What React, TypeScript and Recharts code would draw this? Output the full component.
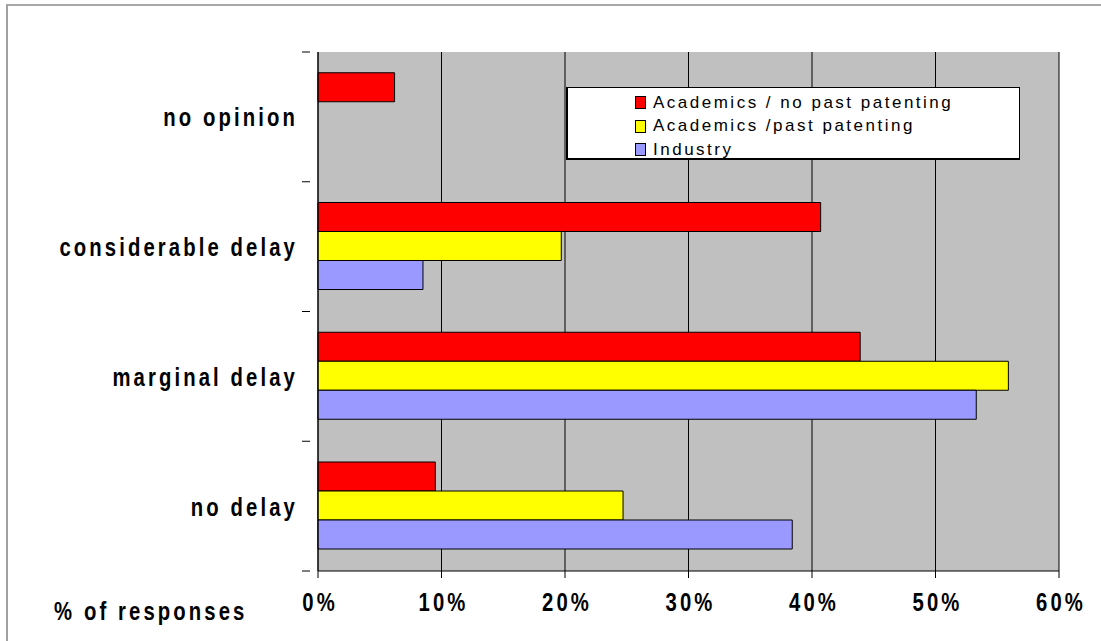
import { BarChart, Bar, XAxis, YAxis, CartesianGrid, Legend } from "recharts";

const CATEGORIES = ["no opinion", "considerable delay", "marginal delay", "no delay"];
const ACAD_NO_PAST = [6.2, 40.7, 43.9, 9.5];
const ACAD_PAST = [0, 19.7, 55.9, 24.7];
const INDUSTRY = [0, 8.5, 53.3, 38.4];
const X_TICKS = [0, 10, 20, 30, 40, 50, 60];

const SERIES = [
  { key: "acadNoPast", name: "Academics / no past patenting", color: "#FF0000" },
  { key: "acadPast", name: "Academics /past patenting", color: "#FFFF00" },
  { key: "industry", name: "Industry", color: "#9999FF" },
];

const data = CATEGORIES.map((cat, i) => ({
  cat,
  acadNoPast: ACAD_NO_PAST[i],
  acadPast: ACAD_PAST[i] || null,
  industry: INDUSTRY[i] || null,
}));

// narrow bold look of the old spreadsheet labels
const LABEL_FONT = "'Liberation Sans', Arial, sans-serif";
const SQUEEZE = 0.78;
const BAND = (571 - 52) / CATEGORIES.length;

function NarrowText({ x, y, anchor, children }: any) {
  return (
    <text
      transform={`translate(${x},${y}) scale(${SQUEEZE},1)`}
      textAnchor={anchor}
      fontFamily={LABEL_FONT}
      fontWeight="bold"
      fontSize={26}
      letterSpacing={4}
      fill="#000"
    >
      {children}
    </text>
  );
}

function CatTick({ x, y, payload, index }: any) {
  return (
    <g>
      <line x1={x - 8} x2={x} y1={y - BAND / 2} y2={y - BAND / 2} stroke="#000" />
      {index === CATEGORIES.length - 1 && (
        <line x1={x - 8} x2={x} y1={y + BAND / 2} y2={y + BAND / 2} stroke="#000" />
      )}
      <NarrowText x={x - 12} y={y + 9.5} anchor="end">
        {payload.value}
      </NarrowText>
    </g>
  );
}

function PctTick({ x, y, payload }: any) {
  return (
    <NarrowText x={x + 2} y={y + 31} anchor="middle">
      {payload.value}%
    </NarrowText>
  );
}

function LegendBox() {
  return (
    <div
      style={{
        width: 454,
        height: 73,
        background: "#fff",
        border: "1px solid #000",
        borderLeft: "2px solid #000",
        borderBottom: "2px solid #000",
        boxSizing: "border-box",
        paddingTop: 3,
        paddingLeft: 67,
        fontFamily: "'Liberation Sans', Arial, sans-serif",
        fontSize: 17,
        letterSpacing: 2.5,
        color: "#000",
      }}
    >
      {SERIES.map((s) => (
        <div key={s.key} style={{ display: "flex", alignItems: "center", height: 23.5 }}>
          <span
            style={{
              width: 9,
              height: 11,
              background: s.color,
              border: "1px solid #000",
              marginRight: 7,
              flexShrink: 0,
            }}
          />
          <span style={{ whiteSpace: "nowrap" }}>{s.name}</span>
        </div>
      ))}
    </div>
  );
}

export default function App() {
  return (
    <div style={{ position: "absolute", left: 0, top: 0, width: 1101, height: 641, background: "#fff", overflow: "hidden" }}>
      <div
        style={{
          position: "absolute",
          left: 6,
          top: 4,
          width: 1120,
          height: 660,
          borderLeft: "2px solid #a0a0a0",
          borderTop: "2px solid #a8a8a8",
        }}
      />
      <svg width={300} height={641} style={{ position: "absolute", left: 0, top: 0 }}>
        <NarrowText x={54} y={620} anchor="start">
          % of responses
        </NarrowText>
      </svg>
      <div style={{ position: "absolute", left: 0, top: 0 }}>
        <BarChart
          width={1101}
          height={641}
          data={data}
          layout="vertical"
          margin={{ top: 52, right: 42, bottom: 0, left: 0 }}
          barCategoryGap="16%"
          barGap={0}
        >
          <CartesianGrid horizontal={false} stroke="#000" fill="#C0C0C0" />
          <XAxis
            type="number"
            domain={[0, 60]}
            ticks={X_TICKS}
            height={70}
            axisLine={{ stroke: "#000" }}
            tickLine={{ stroke: "#000" }}
            tickSize={7}
            tick={<PctTick />}
            interval={0}
          />
          <YAxis
            type="category"
            dataKey="cat"
            width={318}
            axisLine={{ stroke: "#000" }}
            tickLine={false}
            tick={<CatTick />}
            interval={0}
          />
          <Legend
            layout="horizontal"
            verticalAlign="middle"
            align="center"
            content={() => <LegendBox />}
            wrapperStyle={{ left: 566, top: 87, width: 454, height: 73 }}
          />
          {SERIES.map((s) => (
            <Bar
              key={s.key}
              dataKey={s.key}
              name={s.name}
              fill={s.color}
              stroke="#000"
              strokeWidth={1}
              isAnimationActive={false}
            />
          ))}
        </BarChart>
      </div>
    </div>
  );
}
